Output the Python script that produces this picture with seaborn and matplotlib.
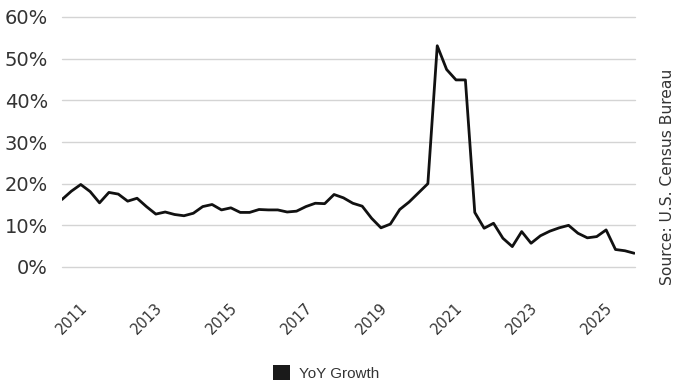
import matplotlib
matplotlib.use("Agg")
import matplotlib.pyplot as plt
from matplotlib.patches import Patch
from matplotlib.transforms import ScaledTranslation
import numpy as np
import pandas as pd
import seaborn as sns

# Quarterly observations, 2010 Q2 through 2025 Q3 (fractional years)
start_year = 2010.25
yoy_growth = [
    16.2, 18.2, 19.8, 18.1, 15.4, 17.9, 17.5, 15.8, 16.5, 14.5,
    12.7, 13.2, 12.6, 12.3, 12.9, 14.5, 15.0, 13.7, 14.2, 13.1,
    13.1, 13.8, 13.7, 13.7, 13.2, 13.4, 14.5, 15.3, 15.2, 17.4,
    16.6, 15.3, 14.6, 11.7, 9.4, 10.3, 13.8, 15.6, 17.8, 20.0,
    53.1, 47.4, 44.9, 44.9, 13.1, 9.3, 10.5, 6.9, 4.9, 8.5,
    5.7, 7.5, 8.6, 9.4, 10.0, 8.1, 7.0, 7.3, 8.9, 4.2,
    3.9, 3.3,
]
year_ticks = [2011, 2013, 2015, 2017, 2019, 2021, 2023, 2025]
y_ticks = [0, 10, 20, 30, 40, 50, 60]
series_name = "YoY Growth"
source_note = "Source: U.S. Census Bureau"

period = [start_year + 0.25 * i for i in range(len(yoy_growth))]
df = pd.DataFrame({"period": period, "growth": yoy_growth})

sns.set_theme(style="white")
plt.rcParams["font.family"] = ["DejaVu Sans"]
text_color = "#333333"

fig = plt.figure(figsize=(6.83, 3.83), dpi=100)
ax = fig.add_axes([62 / 683, 1 - 267 / 383, (635 - 62) / 683, (267 - 17) / 383])

sns.lineplot(data=df, x="period", y="growth", color="#111111", linewidth=2.0, ax=ax)

ax.set_xlim(period[0], period[-1] + 0.02)
ax.set_ylim(0, 60)
ax.set_yticks(y_ticks)
ax.set_yticklabels([f"{v}%" for v in y_ticks], fontsize=14, color=text_color)
ax.set_xticks(year_ticks)
ax.set_xticklabels([str(y) for y in year_ticks], rotation=45, ha="right",
                   fontsize=10.5, color=text_color)
# nudge the rotated year labels so their upper ends sit at the tick positions
nudge = ScaledTranslation(3 / 72, 2 / 72, fig.dpi_scale_trans)
for lbl in ax.get_xticklabels():
    lbl.set_transform(lbl.get_transform() + nudge)
ax.tick_params(axis="x", length=0, pad=24)
ax.tick_params(axis="y", length=0, pad=10)
ax.set_xlabel("")
ax.set_ylabel("")
ax.yaxis.grid(True, color="#d4d4d4", linewidth=1.0)
ax.xaxis.grid(False)
ax.set_axisbelow(True)
for gl in ax.get_ygridlines():
    gl.set_clip_on(False)
for side in ["left", "right", "top", "bottom"]:
    ax.spines[side].set_visible(False)

handle = Patch(facecolor="#1a1a1a", edgecolor="none")
fig.legend([handle], [series_name], loc="center",
           bbox_to_anchor=(326 / 683, 1 - 373 / 383), frameon=False,
           prop={"family": "Liberation Sans", "size": 11},
           handlelength=1.15, handleheight=1.15,
           handletextpad=0.6, labelcolor=text_color)

fig.text(668 / 683, 1 - 177 / 383, source_note, rotation=90, ha="center",
         va="center", fontsize=11.2, color=text_color)

fig.savefig("out.png", dpi=100)
